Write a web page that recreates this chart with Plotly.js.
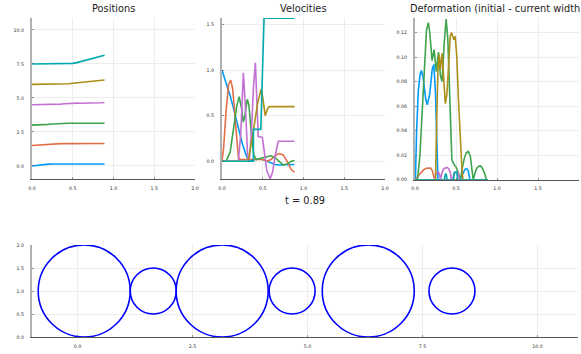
<!DOCTYPE html>
<html>
<head>
<meta charset="utf-8">
<script src="https://cdn.plot.ly/plotly-3.0.1.min.js"></script>
<style>
  html, body { margin: 0; padding: 0; background: #fff; }
  #chart { width: 581px; height: 354px; }
</style>
</head>
<body>
<div id="chart"></div>
<script>
// Six balls on a line: positions, velocities and deformation over time
const ballNames = ["ball 1", "ball 2", "ball 3", "ball 4", "ball 5", "ball 6"];
const ballColors = ["#009afa", "#e36f47", "#3ea44e", "#c371d2", "#ac8e18", "#00aaae"];
const ballRadius = [1, 0.5, 1, 0.5, 1, 0.5];
const ballHeight = 1;
const currentTime = 0.89;

// Positions
const posT = [0, 0.05, 0.1, 0.15, 0.2, 0.25, 0.3, 0.35, 0.4, 0.45, 0.5, 0.55, 0.6, 0.65, 0.7, 0.75, 0.8, 0.85, 0.89];
const posBlue   = [0, 0.046, 0.085, 0.115, 0.136, 0.148, 0.153, 0.155, 0.156, 0.157, 0.158, 0.158, 0.157, 0.155, 0.153, 0.151, 0.149, 0.147, 0.145];
const posOrange = [1.5, 1.52, 1.563, 1.598, 1.62, 1.632, 1.638, 1.64, 1.641, 1.642, 1.643, 1.643, 1.643, 1.645, 1.648, 1.652, 1.653, 1.651, 1.646];
const posGreen  = [3.0, 3.0, 3.006, 3.025, 3.055, 3.08, 3.105, 3.128, 3.138, 3.14, 3.141, 3.143, 3.146, 3.148, 3.147, 3.145, 3.143, 3.143, 3.144];
const posPurple = [4.5, 4.5, 4.5, 4.5, 4.5, 4.51, 4.535, 4.548, 4.572, 4.605, 4.62, 4.621, 4.612, 4.609, 4.618, 4.63, 4.641, 4.652, 4.665];
const posGold   = [6, 6, 6, 6, 6, 6, 6, 6.003, 6.015, 6.045, 6.085, 6.115, 6.145, 6.175, 6.205, 6.235, 6.265, 6.295, 6.32];
const posCyan   = [7.5, 7.5, 7.5, 7.5, 7.5, 7.5, 7.5, 7.5, 7.505, 7.523, 7.545, 7.6, 7.68, 7.76, 7.84, 7.92, 7.998, 8.076, 8.14];

// Velocities
const velBlueT   = [0, 0.05, 0.1, 0.15, 0.2, 0.25, 0.3, 0.33, 0.4, 0.45, 0.5, 0.55, 0.6, 0.65, 0.7, 0.75, 0.8, 0.89];
const velBlue    = [1.0, 0.87, 0.72, 0.55, 0.36, 0.19, 0.06, 0.0, 0.02, 0.025, 0.02, 0.0, -0.02, -0.035, -0.04, -0.04, -0.035, -0.035];
const velOrangeT = [0, 0.02, 0.05, 0.08, 0.107, 0.13, 0.15, 0.18, 0.2, 0.22, 0.3, 0.4, 0.5, 0.55, 0.6, 0.65, 0.7, 0.75, 0.8, 0.85, 0.89];
const velOrange  = [0, 0.15, 0.55, 0.84, 0.89, 0.8, 0.6, 0.25, 0.05, 0.02, 0.02, 0.02, 0.02, 0.0, 0.02, 0.06, 0.085, 0.07, 0.0, -0.09, -0.12];
const velGreenT  = [0, 0.05, 0.1, 0.15, 0.18, 0.21, 0.24, 0.26, 0.28, 0.31, 0.33, 0.36, 0.39, 0.42, 0.45, 0.5, 0.55, 0.6, 0.65, 0.7, 0.75, 0.8, 0.85, 0.89];
const velGreen   = [0, 0.0, 0.1, 0.4, 0.6, 0.71, 0.58, 0.43, 0.5, 0.68, 0.62, 0.3, 0.07, 0.02, 0.03, 0.04, 0.05, 0.06, 0.04, 0.0, -0.04, -0.03, 0.0, 0.01];
const velPurpleT = [0, 0.2, 0.23, 0.262, 0.29, 0.315, 0.335, 0.36, 0.385, 0.41, 0.43, 0.445, 0.47, 0.495, 0.52, 0.55, 0.59, 0.62, 0.65, 0.69, 0.89];
const velPurple  = [0, 0, 0.3, 0.97, 0.55, 0.05, 0.0, 0.3, 0.8, 1.08, 0.6, 0.27, 0.27, 0.26, 0.1, -0.1, -0.19, -0.12, 0.05, 0.22, 0.22];
const velGoldT   = [0, 0.32, 0.36, 0.4, 0.44, 0.48, 0.5, 0.53, 0.56, 0.58, 0.89];
const velGold    = [0, 0, 0.2, 0.45, 0.65, 0.79, 0.7, 0.5, 0.58, 0.6, 0.6];
const velCyanT   = [0, 0.385, 0.386, 0.476, 0.516, 0.89];
const velCyan    = [0, 0, 0.35, 0.35, 1.57, 1.57];

// Deformation (initial - current width)
const defBlueT   = [0, 0.005, 0.02, 0.04, 0.06, 0.078, 0.1, 0.13, 0.15, 0.18, 0.21, 0.23, 0.25, 0.265, 0.28, 0.55, 0.58, 0.61, 0.63, 0.65, 0.67, 0.89];
const defBlue    = [0, 0, 0.04, 0.072, 0.085, 0.089, 0.083, 0.066, 0.061, 0.07, 0.09, 0.094, 0.07, 0.03, 0, 0, 0.005, 0.0085, 0.009, 0.007, 0, 0];
const defOrangeT = [0, 0.02, 0.05, 0.08, 0.11, 0.14, 0.17, 0.19, 0.21, 0.225, 0.24, 0.89];
const defOrange  = [0, 0.001, 0.004, 0.0065, 0.0083, 0.0093, 0.0098, 0.0095, 0.0075, 0.004, 0, 0];
const defGreenT  = [0, 0.03, 0.06, 0.09, 0.12, 0.14, 0.163, 0.18, 0.208, 0.233, 0.26, 0.286, 0.31, 0.33, 0.355, 0.38, 0.4, 0.42, 0.435, 0.45, 0.48, 0.5, 0.52, 0.54, 0.555,
                    0.575, 0.6, 0.625, 0.65, 0.675, 0.7, 0.71, 0.73, 0.75, 0.775, 0.8, 0.825, 0.85, 0.87, 0.89];
const defGreen   = [0, 0, 0.02, 0.06, 0.1, 0.122, 0.128, 0.12, 0.097, 0.106, 0.088, 0.104, 0.085, 0.08, 0.11, 0.131, 0.115, 0.07, 0.03, 0.016, 0.012, 0.0105, 0.007, 0.003, 0,
                    0.009, 0.017, 0.022, 0.023, 0.019, 0.008, 0, 0.005, 0.009, 0.011, 0.0112, 0.009, 0.005, 0, 0];
const defPurpleT = [0, 0.24, 0.25, 0.27, 0.29, 0.3, 0.31, 0.33, 0.35, 0.37, 0.39, 0.41, 0.43, 0.445, 0.46, 0.47, 0.49, 0.51, 0.53, 0.545, 0.89];
const defPurple  = [0, 0, 0.004, 0.006, 0.006, 0.004, 0, 0.006, 0.009, 0.0095, 0.01, 0.009, 0.006, 0, 0, 0.004, 0.006, 0.006, 0.005, 0, 0];
const defGoldT   = [0, 0.25, 0.265, 0.28, 0.294, 0.31, 0.33, 0.35, 0.37, 0.39, 0.41, 0.43, 0.445, 0.46, 0.473, 0.49, 0.51, 0.53, 0.55, 0.57, 0.585, 0.89];
const defGold    = [0, 0, 0.05, 0.09, 0.102, 0.09, 0.103, 0.085, 0.062, 0.07, 0.1, 0.117, 0.12, 0.117, 0.114, 0.117, 0.1, 0.065, 0.035, 0.012, 0, 0];
const defCyanT   = [0, 0.36, 0.365, 0.375, 0.385, 0.39, 0.47, 0.475, 0.48, 0.51, 0.515, 0.52, 0.89];
const defCyan    = [0, 0, 0.003, 0.005, 0.003, 0, 0, 0.004, 0.006, 0.006, 0.004, 0, 0];

// Tick labels
const posYTicks = [0, 2.5, 5, 7.5, 10];
const velYTicks = [0, 0.5, 1, 1.5];
const defYTicks = [0, 0.02, 0.04, 0.06, 0.08, 0.1, 0.12];
const timeTicks = [0, 0.5, 1, 1.5, 2];
const ballXTicks = [0, 2.5, 5, 7.5, 10];
const ballYTicks = [0, 0.5, 1, 1.5, 2];

const posSeries = [posBlue, posOrange, posGreen, posPurple, posGold, posCyan];
const velSeries = [[velBlueT, velBlue], [velOrangeT, velOrange], [velGreenT, velGreen],
                   [velPurpleT, velPurple], [velGoldT, velGold], [velCyanT, velCyan]];
const defSeries = [[defBlueT, defBlue], [defOrangeT, defOrange], [defGreenT, defGreen],
                   [defPurpleT, defPurple], [defGoldT, defGold], [defCyanT, defCyan]];

const FONT = "DejaVu Sans";
const traces = [];
const lineW = 1.6;

posSeries.forEach((ys, i) => traces.push({
  x: posT, y: ys, xaxis: "x", yaxis: "y", type: "scatter", mode: "lines",
  name: ballNames[i], line: { color: ballColors[i], width: lineW }, hoverinfo: "skip"
}));
velSeries.forEach(([xs, ys], i) => traces.push({
  x: xs, y: ys, xaxis: "x2", yaxis: "y2", type: "scatter", mode: "lines",
  name: ballNames[i], line: { color: ballColors[i], width: lineW }, hoverinfo: "skip"
}));
defSeries.forEach(([xs, ys], i) => traces.push({
  x: xs, y: ys, xaxis: "x3", yaxis: "y3", type: "scatter", mode: "lines",
  name: ballNames[i], line: { color: ballColors[i], width: lineW }, hoverinfo: "skip"
}));
// invisible anchor trace so the ball panel axes get drawn
traces.push({ x: [0], y: [1], xaxis: "x4", yaxis: "y4", type: "scatter", mode: "markers",
  marker: { opacity: 0 }, hoverinfo: "skip" });

// balls drawn as circles at their current positions
const shapes = posSeries.map((ys, i) => {
  const c = ys[ys.length - 1];
  const r = ballRadius[i];
  return { type: "circle", xref: "x4", yref: "y4",
    x0: c - r, x1: c + r, y0: ballHeight - r, y1: ballHeight + r,
    line: { color: "#0000ff", width: 1.6 }, fillcolor: "rgba(0,0,0,0)" };
});

const W = 581, H = 354;
const px = v => v / W;
const py = v => 1 - v / H;

const tickFont = { family: FONT, size: 4.7, color: "#333" };

function xAxis(range, ticks, fmt, left, right, anchor) {
  return {
    domain: [px(left), px(right)], range: range, anchor: anchor,
    tickvals: ticks, tickformat: fmt, showgrid: true, gridcolor: "#ededed", gridwidth: 1,
    zeroline: false, showline: true, linecolor: "#555", linewidth: 1,
    ticks: "inside", ticklen: 2, tickwidth: 0.6, tickcolor: "#555",
    tickfont: tickFont, ticklabelstandoff: 4,
    fixedrange: true
  };
}
function yAxis(range, ticks, fmt, top, bottom, anchor) {
  return {
    domain: [py(bottom), py(top)], range: range, anchor: anchor,
    tickvals: ticks, tickformat: fmt, showgrid: true, gridcolor: "#ededed", gridwidth: 1,
    zeroline: false, showline: true, linecolor: "#b0b0b0", linewidth: 2,
    ticks: "inside", ticklen: 2, tickwidth: 0.6, tickcolor: "#555",
    tickfont: tickFont, ticklabelstandoff: 5,
    fixedrange: true
  };
}

const titleFont = { family: FONT, size: 9.8, color: "#222" };
const layout = {
  width: W, height: H,
  margin: { l: 0, r: 0, t: 0, b: 0, pad: 0 },
  paper_bgcolor: "#ffffff", plot_bgcolor: "#ffffff",
  showlegend: false,
  xaxis:  xAxis([0, 2], timeTicks, ".1f", 32, 195, "y"),
  yaxis:  yAxis([-0.96, 10.88], posYTicks, ".1f", 18, 179, "x"),
  xaxis2: xAxis([0, 2], timeTicks, ".1f", 222, 385, "y2"),
  yaxis2: yAxis([-0.194, 1.572], velYTicks, ".1f", 18, 179, "x2"),
  xaxis3: xAxis([0, 2], timeTicks, ".1f", 415, 579, "y3"),
  yaxis3: yAxis([0, 0.1318], defYTicks, ".2f", 18, 179.7, "x3"),
  xaxis4: xAxis([-0.99, 10.88], ballXTicks, ".1f", 32, 578, "y4"),
  yaxis4: yAxis([0, 2], ballYTicks, ".1f", 245, 337, "x4"),
  shapes: shapes,
  annotations: [
    { text: "Positions", x: px(113.5), y: py(8), xref: "paper", yref: "paper",
      xanchor: "center", yanchor: "middle", showarrow: false, font: titleFont },
    { text: "Velocities", x: px(303.5), y: py(8), xref: "paper", yref: "paper",
      xanchor: "center", yanchor: "middle", showarrow: false, font: titleFont },
    { text: "Deformation (initial - current width)", x: px(497), y: py(8), xref: "paper", yref: "paper",
      xanchor: "center", yanchor: "middle", showarrow: false, font: titleFont },
    { text: "t = " + currentTime.toFixed(2), x: px(305), y: py(200), xref: "paper", yref: "paper",
      xanchor: "center", yanchor: "middle", showarrow: false, font: titleFont }
  ]
};

Plotly.newPlot("chart", traces, layout, { staticPlot: true, displayModeBar: false });
</script>
</body>
</html>
